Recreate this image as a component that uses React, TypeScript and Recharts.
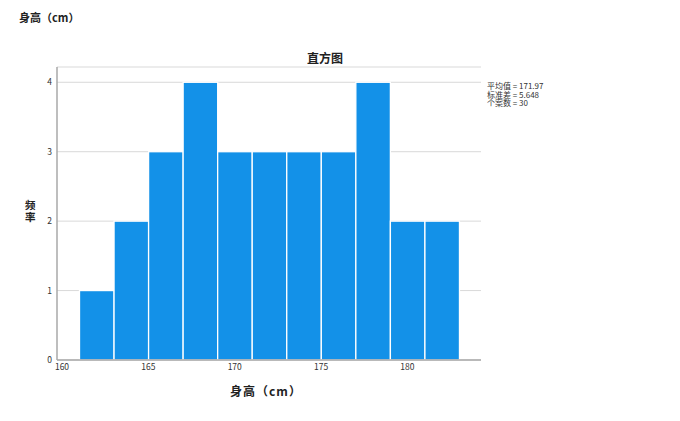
import React from 'react'
import { BarChart, Bar, XAxis, YAxis, CartesianGrid } from 'recharts'

// histogram bins (2 cm wide), centre value and count
const binCenters = [162, 164, 166, 168, 170, 172, 174, 176, 178, 180, 182]
const binCounts = [1, 2, 3, 4, 3, 3, 3, 3, 4, 2, 2]
const xTicks = [160, 165, 170, 175, 180]
const yTicks = [0, 1, 2, 3, 4]
const statLines = ['平均值 = 171.97', '标准差 = 5.648', '个案数 = 30']

const X_DOMAIN: [number, number] = [159.71, 184.26]
const BIN_WIDTH = 2
const PLOT_LEFT = 57
const PLOT_RIGHT = 481
const PLOT_TOP = 67
const PLOT_BOTTOM = 360
const Y_AXIS_W = 20
const X_AXIS_H = 20

const FONT = '"Noto Sans CJK SC", "Noto Sans", sans-serif'

const data = binCenters.map((x, i) => ({ x, count: binCounts[i] }))
const binPx = (BIN_WIDTH * (PLOT_RIGHT - PLOT_LEFT)) / (X_DOMAIN[1] - X_DOMAIN[0])

// recharts narrows bars on a number axis, so draw each bin full width around its centre
const BinShape = (props: any) => {
  const { x, y, width, height } = props
  if (!height) return null
  const cx = x + width / 2
  return (
    <rect x={cx - binPx / 2} y={y} width={binPx} height={height}
      fill="#1391e8" stroke="#ffffff" strokeWidth={1.3} />
  )
}

export default function App() {
  return (
    <div style={{ position: 'absolute', left: 0, top: 0, width: 680, height: 421, background: '#fff', fontFamily: FONT }}>
      <div style={{ position: 'absolute', left: 19, top: 9, fontSize: 11, fontWeight: 700, color: '#222' }}>身高（cm）</div>
      <div style={{ position: 'absolute', left: 0, width: 650, top: 49, textAlign: 'center', fontSize: 12, fontWeight: 700, color: '#222' }}>直方图</div>
      <div style={{ position: 'absolute', left: 25, top: 199, width: 12, fontSize: 10.5, fontWeight: 700, lineHeight: '11.5px', color: '#222' }}>
        <div>频</div>
        <div>率</div>
      </div>
      <div style={{ position: 'absolute', left: 0, width: 532, top: 382, textAlign: 'center', fontSize: 12, fontWeight: 700, color: '#222', letterSpacing: 1 }}>身高（cm）</div>
      <div style={{ position: 'absolute', left: 487, top: 82, fontSize: 8, lineHeight: '8.6px', color: '#333', whiteSpace: 'nowrap' }}>
        {statLines.map(s => <div key={s}>{s}</div>)}
      </div>
      <BarChart
        width={680}
        height={421}
        data={data}
        barCategoryGap={0}
        barGap={0}
        margin={{ top: PLOT_TOP, left: PLOT_LEFT - Y_AXIS_W, right: 680 - PLOT_RIGHT, bottom: 421 - PLOT_BOTTOM - X_AXIS_H }}
      >
        <CartesianGrid vertical={false} stroke="#d9d9d9" strokeWidth={1} />
        <XAxis
          dataKey="x"
          type="number"
          domain={X_DOMAIN}
          ticks={xTicks}
          allowDataOverflow
          height={X_AXIS_H}
          tickLine={false}
          tickSize={3}
          tickMargin={1}
          axisLine={{ stroke: '#a8a8a8', strokeWidth: 1.5 }}
          tick={{ fill: '#333', fontSize: 8.5, fontFamily: FONT }}
        />
        <YAxis
          type="number"
          domain={[0, 4.22]}
          ticks={yTicks}
          allowDataOverflow
          width={Y_AXIS_W}
          tickLine={false}
          tickSize={3}
          tickMargin={2}
          axisLine={{ stroke: '#a8a8a8', strokeWidth: 1.5 }}
          tick={{ fill: '#333', fontSize: 8.5, fontFamily: FONT }}
        />
        <Bar dataKey="count" shape={BinShape} isAnimationActive={false} />
      </BarChart>
    </div>
  )
}
